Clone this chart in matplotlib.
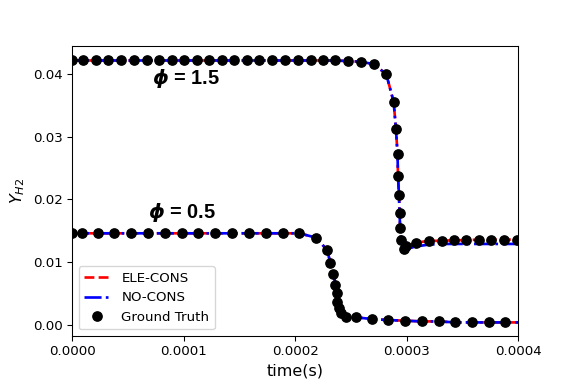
import matplotlib
matplotlib.use("Agg")
from matplotlib import pyplot as plt
import numpy as np

# time in units of 1e-4 s
t_hi = [0.0, 0.101, 0.215, 0.323, 0.439, 0.556, 0.670, 0.780, 0.894, 1.004, 1.118,
        1.229, 1.343, 1.453, 1.567, 1.677, 1.794, 1.906, 2.022, 2.139, 2.248, 2.361,
        2.475, 2.590, 2.706, 2.816, 2.882, 2.903, 2.917, 2.921, 2.930, 2.935, 2.940,
        2.948, 2.971, 2.996, 3.085, 3.196, 3.312, 3.420, 3.534, 3.648, 3.758, 3.874, 3.988]
y_hi = [0.0422, 0.0422, 0.0422, 0.0422, 0.0422, 0.0422, 0.0422, 0.0422, 0.0422, 0.0422,
        0.0422, 0.0422, 0.0422, 0.0422, 0.0422, 0.0422, 0.0422, 0.0422, 0.0422, 0.0422,
        0.0422, 0.0422, 0.0421, 0.0420, 0.0416, 0.0400, 0.0356, 0.0312, 0.0272, 0.0238,
        0.0207, 0.0179, 0.0155, 0.0135, 0.0121, 0.0125, 0.0131, 0.0134, 0.0134, 0.0135,
        0.0135, 0.0136, 0.0136, 0.0136, 0.0136]
# NO-CONS departs after the drop
y_hi_nocons = y_hi[:35] + [0.0121, 0.0125, 0.0128, 0.0129, 0.0129, 0.0129, 0.0129,
                           0.0129, 0.0129, 0.0129]

t_lo = [0.0, 0.087, 0.230, 0.379, 0.529, 0.684, 0.834, 0.984, 1.133, 1.283, 1.438,
        1.587, 1.737, 1.888, 2.038, 2.188, 2.287, 2.316, 2.343, 2.361, 2.374, 2.379,
        2.392, 2.410, 2.457, 2.541, 2.688, 2.831, 2.987, 3.136, 3.285, 3.435, 3.585,
        3.734, 3.884]
y_lo = [0.0146, 0.0146, 0.0146, 0.0146, 0.0146, 0.0146, 0.0146, 0.0146, 0.0146, 0.0146,
        0.0146, 0.0146, 0.0146, 0.0146, 0.0146, 0.0139, 0.0119, 0.0098, 0.0081, 0.0064,
        0.0050, 0.0037, 0.0027, 0.0018, 0.0013, 0.0012, 0.0009, 0.00075, 0.00064,
        0.00053, 0.00053, 0.00037, 0.00037, 0.00037, 0.00037]

t_end = 4.0
y_hi_end = 0.0136
y_hi_nocons_end = 0.0129
y_lo_end = 0.00037

if __name__ == "__main__":
    fig = plt.figure(figsize=(6, 4), dpi=96)
    ax = fig.add_axes([0.125, 0.125, 0.775, 0.755])

    th = np.array(t_hi + [t_end]) * 1e-4
    tl = np.array(t_lo + [t_end]) * 1e-4

    ax.plot(th, y_hi + [y_hi_end], 'r--', lw=2, label='ELE-CONS')
    ax.plot(th, y_hi_nocons + [y_hi_nocons_end], 'b-.', lw=2, label='NO-CONS')
    ax.plot(np.array(t_hi) * 1e-4, y_hi, 'ko', ms=7, label='Ground Truth')

    ax.plot(tl, y_lo + [y_lo_end], 'r--', lw=2)
    ax.plot(tl, y_lo + [y_lo_end], 'b-.', lw=2)
    ax.plot(np.array(t_lo) * 1e-4, y_lo, 'ko', ms=7)

    ax.text(0.72e-4, 0.0393, r'$\boldsymbol{\phi}$ = 1.5', fontsize=15,
            fontweight='bold', family=['Liberation Sans', 'DejaVu Sans'], va='center')
    ax.text(0.68e-4, 0.0179, r'$\boldsymbol{\phi}$ = 0.5', fontsize=15,
            fontweight='bold', family=['Liberation Sans', 'DejaVu Sans'], va='center')

    ax.set_xlim(0, 0.0004)
    ax.set_ylim(-0.0018, 0.0445)
    ax.set_xticks([0, 0.0001, 0.0002, 0.0003, 0.0004])
    ax.set_xticklabels(['0.0000', '0.0001', '0.0002', '0.0003', '0.0004'])
    ax.set_yticks([0, 0.01, 0.02, 0.03, 0.04])
    ax.set_yticklabels(['0.00', '0.01', '0.02', '0.03', '0.04'])
    ax.set_xlabel('time(s)', fontsize=12)
    ax.set_ylabel(r'$Y_{H2}$', fontsize=12)
    ax.legend(loc='lower left')

    fig.savefig('out.png', dpi=96)
